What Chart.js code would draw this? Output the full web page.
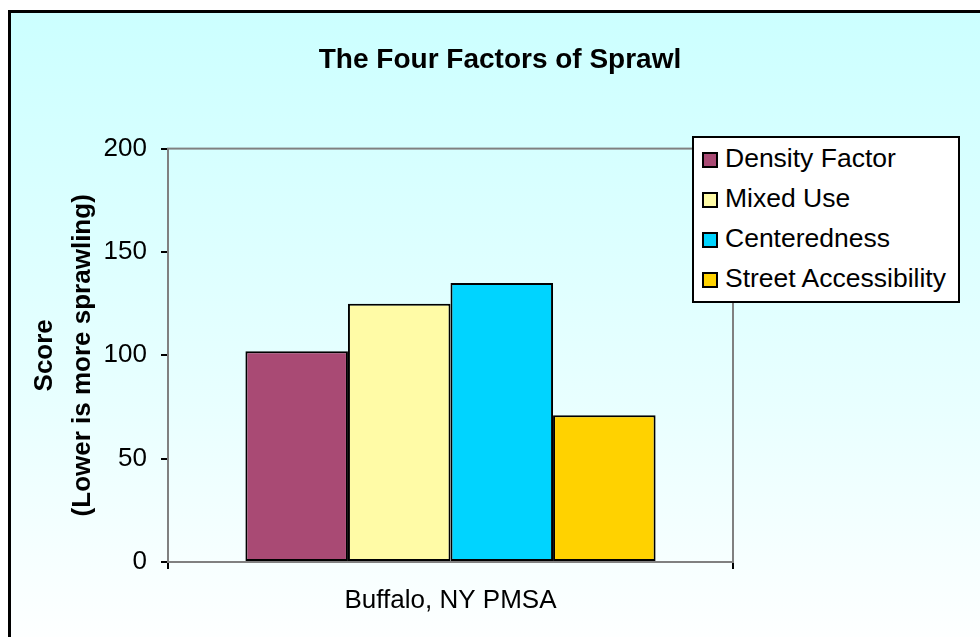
<!DOCTYPE html>
<html>
<head>
<meta charset="utf-8">
<script src="https://cdn.jsdelivr.net/npm/chart.js@4/dist/chart.umd.min.js"></script>
<style>
  html, body { margin: 0; padding: 0; background: #fff; overflow: hidden; }
  #frame {
    position: absolute; left: 8px; top: 10px; width: 990px; height: 650px;
    border: 3px solid #000; box-sizing: border-box;
    background: linear-gradient(to bottom, #ccffff 0%, #e8ffff 60%, #ffffff 100%);
  }
  #wrap { position: absolute; left: 0; top: 0; width: 980px; height: 637px; }
  #legend {
    position: absolute; left: 692px; top: 136px; width: 268px;
    border: 2px solid #000; background: #fff; box-sizing: border-box;
    padding: 0 0 3px 8px;
    font-family: "Liberation Sans", Arial, sans-serif; font-size: 26.5px; color: #000;
  }
  .item { height: 40px; line-height: 40px; white-space: nowrap; }
  .sw {
    display: inline-block; width: 16px; height: 16px; box-sizing: border-box;
    border: 2px solid #000; margin-right: 7px; vertical-align: -1px;
  }
</style>
</head>
<body>
<div id="frame"></div>
<div id="wrap"><canvas id="grafico"></canvas></div>
<div id="legend"></div>
<script>
  // Dados do gráfico
  const categorias = ['Buffalo, NY PMSA'];
  const series = ['Density Factor', 'Mixed Use', 'Centeredness', 'Street Accessibility'];
  const valores = [102, 125, 135, 71];
  const cores = ['#a94a74', '#fffba6', '#00d4ff', '#ffd200'];
  const ticksY = [0, 50, 100, 150, 200];

  const fonte = '"Liberation Sans", Arial, sans-serif';

  // Borda cinza da área do gráfico (topo e direita)
  const bordaArea = {
    id: 'bordaArea',
    beforeDatasetsDraw(chart) {
      const { ctx, chartArea: a } = chart;
      ctx.save();
      ctx.strokeStyle = '#808080';
      ctx.lineWidth = 2;
      ctx.strokeRect(a.left, a.top, a.right - a.left, a.bottom - a.top);
      ctx.restore();
    }
  };

  const ctx = document.getElementById('grafico').getContext('2d');
  const chart = new Chart(ctx, {
    type: 'bar',
    data: {
      labels: categorias,
      datasets: series.map((nome, i) => ({
        label: nome,
        data: [valores[i]],
        backgroundColor: cores[i],
        borderColor: '#000',
        borderWidth: 2,
        borderSkipped: false,
        barPercentage: 1,
        categoryPercentage: 0.726
      }))
    },
    options: {
      responsive: true,
      maintainAspectRatio: false,
      animation: false,
      layout: { padding: { left: 20, right: 0, top: 10, bottom: 0 } },
      plugins: {
        legend: { display: false },
        tooltip: { enabled: false },
        title: {
          display: true,
          text: 'The Four Factors of Sprawl',
          color: '#000',
          font: { family: fonte, size: 28, weight: 'bold' },
          padding: { top: 33, bottom: 72 }
        }
      },
      scales: {
        x: {
          grid: { drawOnChartArea: false, color: '#000', lineWidth: 2, tickLength: 7 },
          border: { color: '#000', width: 2 },
          ticks: { color: '#000', font: { family: fonte, size: 26 }, padding: 16 },
          afterFit(s) { s.height = 75; }
        },
        y: {
          min: 0,
          max: 200,
          afterBuildTicks(s) { s.ticks = ticksY.map(v => ({ value: v })); },
          grid: { drawOnChartArea: false, color: '#000', lineWidth: 2, tickLength: 7 },
          border: { color: '#000', width: 2 },
          ticks: { color: '#000', font: { family: fonte, size: 26 }, padding: 14 },
          title: {
            display: true,
            text: ['Score', '(Lower is more sprawling)'],
            color: '#000',
            font: { family: fonte, size: 26, weight: 'bold', lineHeight: 1.45 },
            padding: { top: 6, bottom: 2 }
          },
          afterFit(s) { s.width = 148; }
        },
        // eixo vazio à direita, só para reservar o espaço da legenda
        direita: {
          position: 'right',
          min: 0,
          max: 200,
          grid: { display: false },
          border: { display: false },
          ticks: { display: false },
          afterFit(s) { s.width = 247; }
        }
      }
    },
    plugins: [bordaArea]
  });

  // Legenda em HTML sobreposta à área do gráfico
  const legenda = document.getElementById('legend');
  chart.data.datasets.forEach(ds => {
    const item = document.createElement('div');
    item.className = 'item';
    const sw = document.createElement('span');
    sw.className = 'sw';
    sw.style.background = ds.backgroundColor;
    item.appendChild(sw);
    item.appendChild(document.createTextNode(ds.label));
    legenda.appendChild(item);
  });
</script>
</body>
</html>
